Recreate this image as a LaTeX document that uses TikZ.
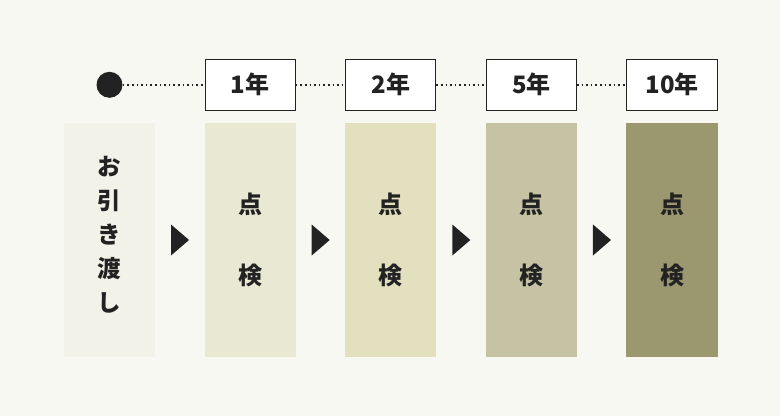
\documentclass[tikz,border=0pt]{standalone}
\usepackage{fontspec}
\setmainfont{Noto Sans CJK JP}
\usetikzlibrary{positioning,shapes.geometric,calc}

\definecolor{bgpaper}{HTML}{F8F8F3}
\definecolor{inkdark}{HTML}{222222}
\definecolor{stagezero}{HTML}{F2F2E8}
\definecolor{stageone}{HTML}{E8E8D3}
\definecolor{stagetwo}{HTML}{E3E0BF}
\definecolor{stagethree}{HTML}{C5C3A3}
\definecolor{stagefour}{HTML}{9B976F}

\begin{document}
\begin{tikzpicture}[
    x=1pt, y=-1pt,
    node distance=49pt,
    stage/.style={rectangle, minimum width=91.25pt, minimum height=234pt, inner sep=0pt, align=center, text=inkdark, font=\fontsize{24}{71}\selectfont\bfseries},
    year/.style={rectangle, draw=inkdark, line width=1pt, fill=white, minimum width=90.25pt, minimum height=51pt, inner sep=0pt, text=inkdark, font=\fontsize{24}{28}\selectfont\bfseries},
    pointer/.style={isosceles triangle, isosceles triangle stretches, fill=inkdark, inner sep=0pt, minimum width=31pt, minimum height=18pt, anchor=west, xshift=-9pt},
    timeline/.style={inkdark, line width=1.6pt, dash pattern=on 1.6pt off 3pt}
]
\useasboundingbox (0,0) rectangle (780,416);
\fill[bgpaper] (0,0) rectangle (780,416);

% stages
\node[stage, fill=stagezero, label={[align=center, text=inkdark, font=\fontsize{23.5}{34}\selectfont\bfseries, yshift=5pt]center:お\\引\\き\\渡\\し}] (handover) at (109.5,240) {};
\node[stage, fill=stageone, right=of handover] (check1) {点\\検};
\node[stage, fill=stagetwo, right=of check1] (check2) {点\\検};
\node[stage, fill=stagethree, right=of check2] (check5) {点\\検};
\node[stage, fill=stagefour, right=of check5] (check10) {点\\検};

% years
\node[year, above=12pt of check1] (year1) {1年};
\node[year, above=12pt of check2] (year2) {2年};
\node[year, above=12pt of check5] (year5) {5年};
\node[year, above=12pt of check10] (year10) {10年};
\node[circle, fill=inkdark, minimum size=26pt, inner sep=0pt] (start) at (handover.center |- year1.center) {};

\draw[timeline] (start.east) -- (year1.west);
\draw[timeline] (year1.east) -- (year2.west);
\draw[timeline] (year2.east) -- (year5.west);
\draw[timeline] (year5.east) -- (year10.west);

% pointers
\node[pointer] (next1) at ($(handover.east)!0.5!(check1.west)$) {};
\node[pointer] (next2) at ($(check1.east)!0.5!(check2.west)$) {};
\node[pointer] (next3) at ($(check2.east)!0.5!(check5.west)$) {};
\node[pointer] (next4) at ($(check5.east)!0.5!(check10.west)$) {};

\end{tikzpicture}
\end{document}
